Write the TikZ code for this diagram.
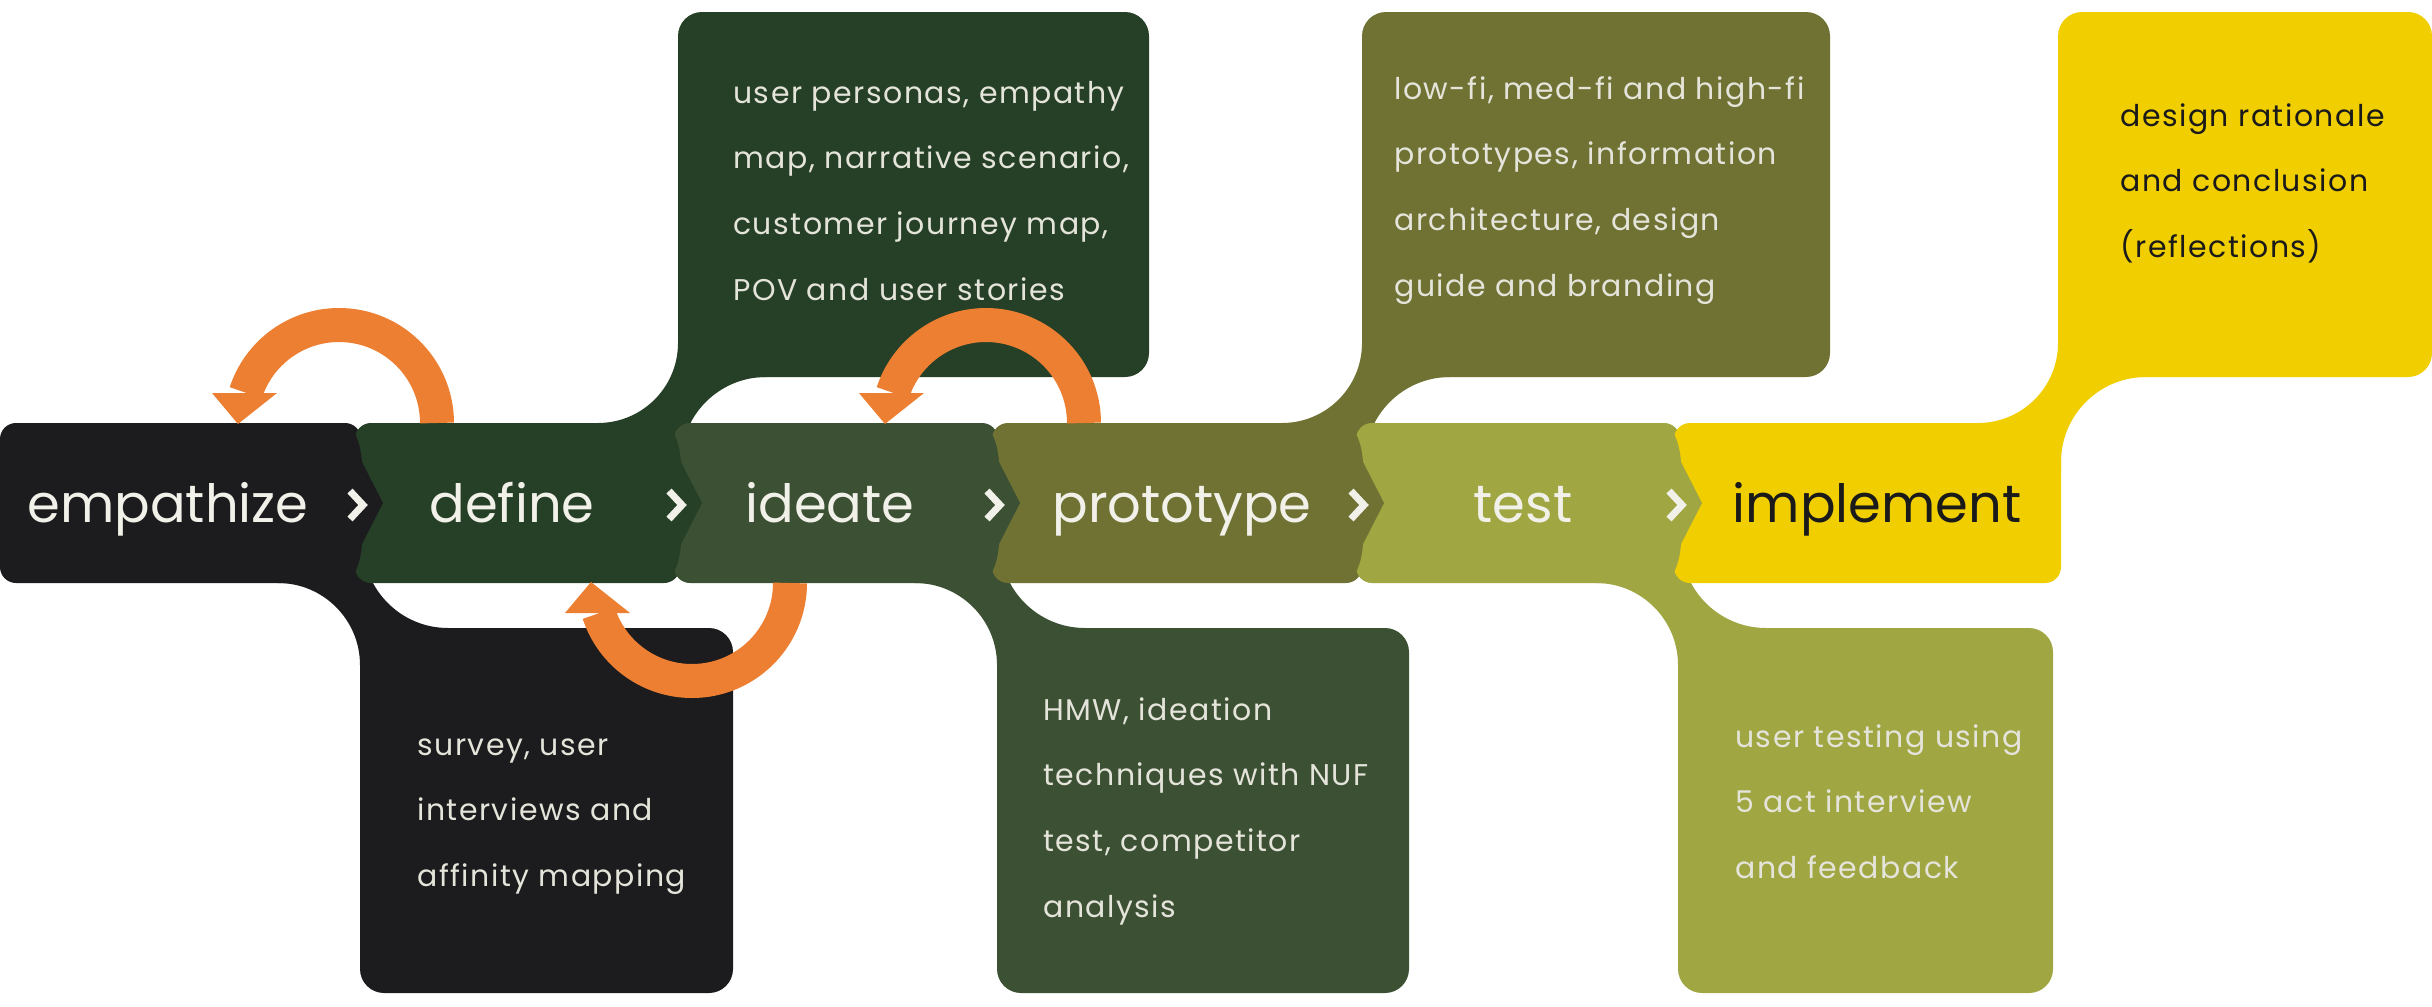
\documentclass[tikz,border=0pt]{standalone}
\usepackage{fontspec}
\setmainfont{Poppins}
\newfontfamily\descfont[LetterSpace=5]{Poppins}
\definecolor{cEmp}{HTML}{1C1B1D}
\definecolor{cDef}{HTML}{264027}
\definecolor{cIde}{HTML}{3C5033}
\definecolor{cPro}{HTML}{6F7232}
\definecolor{cTes}{HTML}{A0A641}
\definecolor{cImp}{HTML}{F0CE00}
\definecolor{cOra}{HTML}{EC7F32}
\definecolor{cTxt}{HTML}{F1F1EA}
\definecolor{cDesc}{HTML}{E4E4DA}
\definecolor{cDark}{HTML}{1A1A1A}
% upper neck: #1 colour, #2 left edge of the upper box
\newcommand{\stgupneck}[2]{\fill[#1] ({#2+88},300) -- (#2,300) -- (#2,343) arc[start angle=0,end angle=90,radius=80] -- ({#2-80},470) -- ({#2+3},470) -- ({#2+3},462) arc[start angle=180,end angle=270,radius=85] -- cycle;}
% lower neck: #1 colour, #2 left edge of the lower box
\newcommand{\stglowneck}[2]{\fill[#1] ({#2-82},560) -- ({#2-82},583) arc[start angle=-90,end angle=0,radius=82] -- (#2,700) -- ({#2+88},700) -- ({#2+88},628) arc[start angle=90,end angle=180,radius=85] -- ({#2+3},560) -- cycle;}
% pointed joint: #1 colour of previous stage, #2 boundary x
\newcommand{\stgbump}[2]{\fill[#1] ({#2-6},428) .. controls ({#2+2},432) and ({#2+6},448) .. ({#2+7},462) -- ({#2+28},503) -- ({#2+7},544) .. controls ({#2+6},558) and ({#2+2},574) .. ({#2-6},578) -- cycle;}
\newcommand{\stgchev}[1]{\draw[chev] ({#1-7},491) -- ({#1+6},505) -- ({#1-7},519);}
\tikzset{
  lbl/.style={font=\fontsize{37.5}{45}\selectfont, text=cTxt, inner sep=0pt, anchor=base},
  desc/.style={font=\descfont\fontsize{21.3}{46.9}\selectfont, text=cDesc, inner sep=0pt, anchor=base west},
  band/.style={draw=cOra, line width=8.5mm},
  chev/.style={draw=cTxt, line width=1.75mm},
  barshape/.style={rounded corners=4mm},
  boxshape/.style={rounded corners=6mm},
}
\begin{document}
\begin{tikzpicture}[x=0.25mm,y=-0.25mm]
\useasboundingbox (0,0) rectangle (2432,1006);
% empathize
\fill[cEmp,barshape] (0,423) rectangle (361,583);
\fill[cEmp,boxshape] (360,628) rectangle (733,993);
\stglowneck{cEmp}{360}
% define
\fill[cDef,barshape] (355,423) rectangle (680,583);
\fill[cDef,boxshape] (678,12) rectangle (1149,377);
\stgupneck{cDef}{678}
% ideate
\fill[cIde,barshape] (674,423) rectangle (998,583);
\fill[cIde,boxshape] (997,628) rectangle (1409,993);
\stglowneck{cIde}{997}
% prototype
\fill[cPro,barshape] (992,423) rectangle (1362,583);
\fill[cPro,boxshape] (1362,12) rectangle (1830,377);
\stgupneck{cPro}{1362}
% test
\fill[cTes,barshape] (1356,423) rectangle (1680,583);
\fill[cTes,boxshape] (1678,628) rectangle (2053,993);
\stglowneck{cTes}{1678}
% implement
\fill[cImp,barshape] (1674,423) rectangle (2061,583);
\fill[cImp,boxshape] (2058,12) rectangle (2432,377);
\stgupneck{cImp}{2058}
% joints
\stgbump{cEmp}{355}
\stgbump{cDef}{674}
\stgbump{cIde}{992}
\stgbump{cPro}{1356}
\stgbump{cTes}{1674}
\stgchev{357}
\stgchev{676}
\stgchev{994}
\stgchev{1358}
\stgchev{1676}
% stage labels
\node[lbl] (empathize) at (168,522) {empathize};
\node[lbl] (define) at (512,522) {define};
\node[lbl] (ideate) at (830,522) {ideate};
\node[lbl] (prototype) at (1182,522) {prototype};
\node[lbl] (test) at (1523,522) {test};
\node[lbl,text=cDark] (implement) at (1877,522) {implement};
% descriptions
\node[desc] (dEmp) at (417,755) {\parbox[t]{140mm}{survey, user\\interviews and\\affinity mapping}};
\node[desc] (dDef) at (733,103) {\parbox[t]{140mm}{user personas, empathy\\map, narrative scenario,\\customer journey map,\\POV and user stories}};
\node[desc] (dIde) at (1043,720) {\parbox[t]{140mm}{HMW, ideation\\techniques with NUF\\test, competitor\\analysis}};
\node[desc] (dPro) at (1394,99) {\parbox[t]{140mm}{low-fi, med-fi and high-fi\\prototypes, information\\architecture, design\\guide and branding}};
\node[desc] (dTes) at (1735,747) {\parbox[t]{140mm}{user testing using\\5 act interview\\and feedback}};
\node[desc,text=cDark] (dImp) at (2120,126) {\parbox[t]{140mm}{design rationale\\and conclusion\\(reflections)}};
% loop-back arrows
\coordinate (defTop) at (437,423);
\coordinate (empTop) at (238,424);
\draw[band] (defTop) arc[start angle=0,end angle=-162,radius=98];
\fill[cOra] (212,393) -- (277,393) -- (empTop) -- cycle;
\coordinate (proTop) at (1084,423);
\coordinate (ideTop) at (885,424);
\draw[band] (proTop) arc[start angle=0,end angle=-162,radius=98];
\fill[cOra] (859,393) -- (924,393) -- (ideTop) -- cycle;
\coordinate (ideBot) at (790,583);
\coordinate (defBot) at (591,582);
\draw[band] (ideBot) arc[start angle=0,end angle=162,radius=98];
\fill[cOra] (565,613) -- (630,613) -- (defBot) -- cycle;
\end{tikzpicture}
\end{document}
